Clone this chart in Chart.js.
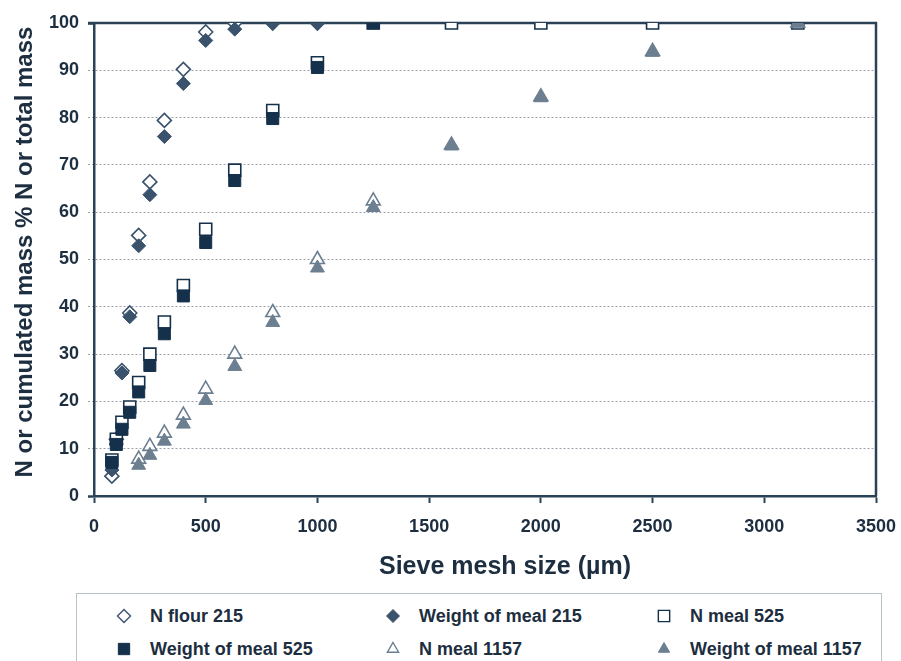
<!DOCTYPE html>
<html>
<head>
<meta charset="utf-8">
<script src="https://cdn.jsdelivr.net/npm/chart.js@4.4.1/dist/chart.umd.min.js"></script>
<style>
  body { margin: 0; background: #fff; font-family: "Liberation Sans", Arial, sans-serif; }
  #wrap { position: relative; width: 901px; height: 661px; overflow: hidden; }
  #chart { position: absolute; left: 0; top: 0; }
  .axis-title { position: absolute; font-weight: bold; color: #1c2e40; white-space: nowrap; text-align: center; }
  #xTitle { font-size: 25px; left: 305px; top: 550px; width: 400px; line-height: 30px; }
  #yTitle { font-size: 24px; left: -216px; top: 237px; width: 480px; line-height: 30px; transform: rotate(-90deg); }
  #legend { position: absolute; left: 76px; top: 593px; width: 804px; height: 80px; border: 1px solid #b9c1c9; }
  .item { position: absolute; height: 30px; line-height: 30px; font-size: 18px; font-weight: bold; color: #1c2e40; white-space: nowrap; }
  .item canvas { position: absolute; top: 7px; }
</style>
</head>
<body>
<div id="wrap">
  <canvas id="chart" width="901" height="590"></canvas>
  <div id="yTitle" class="axis-title">N or cumulated mass % N or total mass</div>
  <div id="xTitle" class="axis-title">Sieve mesh size (µm)</div>
  <div id="legend"></div>
</div>
<script>
"use strict";
// sieve mesh sizes (µm) and cumulated values (%), null = no point
const sieveSizes = [80, 100, 125, 160, 200, 250, 315, 400, 500, 630, 800, 1000, 1250, 1600, 2000, 2500, 3150];
const nFlour215 = [4.2, 12, 26.5, 38.7, 55.1, 66.4, 79.4, 90.2, 98.1, 100, 100, 100, null, null, null, null, null];
const weightMeal215 = [5.5, 11, 26, 37.9, 52.9, 63.7, 76.0, 87.2, 96.3, 98.7, 100, 100, null, null, null, null, null];
const nMeal525 = [7.6, 12.0, 15.6, 18.8, 24.0, 30.0, 36.8, 44.5, 56.4, 68.9, 81.5, 91.6, 100, 100, 100, 100, 100];
const weightMeal525 = [7.1, 10.9, 14.1, 17.7, 22.0, 27.6, 34.3, 42.3, 53.6, 66.7, 79.8, 90.6, 100, null, null, null, null];
const nMeal1157 = [null, null, null, null, 7.8, 10.5, 13.3, 17.1, 22.6, 30.0, 38.8, 50.0, 62.4, 74.2, 84.4, 94.0, 100];
const weightMeal1157 = [null, null, null, null, 6.5, 8.6, 11.6, 15.2, 20.2, 27.4, 36.7, 48.2, 61.0, 74.0, 84.2, 93.8, 100];
const xTicks = [0, 500, 1000, 1500, 2000, 2500, 3000, 3500];

const DARK = "#2b4256";
const TEXT = "#1c2e40";
const DIAMOND = "#3a526b";
const SQUARE = "#15304a";
const TRIANGLE = "#6c7f90";

const toPoints = (vals) => sieveSizes
    .map((x, i) => ({ x, y: vals[i] }))
    .filter((p) => p.y !== null);

const series = [
    { label: "N flour 215", vals: nFlour215, style: "rectRot", color: DIAMOND, open: true, r: 7 },
    { label: "Weight of meal 215", vals: weightMeal215, style: "rectRot", color: DIAMOND, open: false, r: 7 },
    { label: "N meal 525", vals: nMeal525, style: "rect", color: SQUARE, open: true, r: 8.5 },
    { label: "Weight of meal 525", vals: weightMeal525, style: "rect", color: SQUARE, open: false, r: 8.5 },
    { label: "N meal 1157", vals: nMeal1157, style: "triangle", color: TRIANGLE, open: true, r: 8 },
    { label: "Weight of meal 1157", vals: weightMeal1157, style: "triangle", color: TRIANGLE, open: false, r: 8 },
];

const frame = {
    id: "frame",
    beforeDatasetsDraw(chart) {
        const { ctx, chartArea: a } = chart;
        ctx.save();
        ctx.strokeStyle = DARK;
        ctx.lineWidth = 2.5;
        ctx.beginPath();
        ctx.moveTo(a.left - 6, a.top);
        ctx.lineTo(a.right, a.top);
        ctx.lineTo(a.right, a.bottom);
        ctx.stroke();
        ctx.restore();
    },
};

const edge = (v) => v === 0 || v === 100;

new Chart(document.getElementById("chart"), {
    type: "scatter",
    data: {
        datasets: series.map((s, i) => ({
            label: s.label,
            data: toPoints(s.vals),
            order: series.length - i,
            pointStyle: s.style,
            pointRadius: s.r,
            pointHoverRadius: s.r,
            backgroundColor: s.open ? "#ffffff" : s.color,
            borderColor: s.color,
            borderWidth: s.open ? 1.6 : 1,
        })),
    },
    options: {
        responsive: false,
        animation: false,
        layout: { padding: { left: 0, top: 23, right: 25, bottom: 0 } },
        plugins: { legend: { display: false }, tooltip: { enabled: false } },
        scales: {
            x: {
                type: "linear",
                min: 0,
                max: 3500,
                afterBuildTicks: (scale) => { scale.ticks = xTicks.map((v) => ({ value: v })); },
                afterFit: (scale) => {
                    scale.height = 94;
                    scale.paddingRight = 0;
                    scale.paddingLeft = 0;
                },
                grid: { drawOnChartArea: false, drawTicks: true, tickLength: 7, tickColor: DARK, tickWidth: 2 },
                border: { color: DARK, width: 2.5 },
                ticks: {
                    color: TEXT,
                    padding: 13,
                    font: { family: "Liberation Sans", size: 18, weight: "bold" },
                    callback: (v) => String(v),
                },
            },
            y: {
                min: 0,
                max: 100,
                afterFit: (scale) => { scale.width = 94; },
                ticks: { stepSize: 10, color: TEXT, padding: 9, font: { family: "Liberation Sans", size: 18, weight: "bold" } },
                grid: {
                    tickLength: 6,
                    color: (c) => edge(c.tick.value) ? DARK : "#9aa1a8",
                    tickColor: (c) => edge(c.tick.value) ? DARK : "#9aa1a8",
                    tickWidth: (c) => edge(c.tick.value) ? 2.5 : 1,
                    tickBorderDash: (c) => edge(c.tick.value) ? [] : [2, 2],
                    lineWidth: 1,
                },
                border: { color: DARK, width: 2.5, dash: [2, 2] },
            },
        },
    },
    plugins: [frame],
});

// legend box below the chart, 3 columns x 2 rows
const legend = document.getElementById("legend");
const cols = [47, 316, 587];
const rows = [7, 40];
series.forEach((s, i) => {
    const item = document.createElement("div");
    item.className = "item";
    item.style.left = (cols[i % 3] - 10) + "px";
    item.style.top = rows[Math.floor(i / 3)] + "px";
    const c = document.createElement("canvas");
    c.width = 20;
    c.height = 16;
    c.style.left = "0px";
    const ctx = c.getContext("2d");
    ctx.fillStyle = s.open ? "#ffffff" : s.color;
    ctx.strokeStyle = s.color;
    ctx.lineWidth = s.open ? 1.4 : 1;
    Chart.helpers.drawPoint(ctx, { pointStyle: s.style, radius: s.style === "rect" ? 8 : 6.5, borderWidth: ctx.lineWidth, rotation: 0 }, 10, 8);
    const t = document.createElement("span");
    t.style.marginLeft = "36px";
    t.textContent = s.label;
    item.appendChild(c);
    item.appendChild(t);
    legend.appendChild(item);
});
</script>
</body>
</html>
